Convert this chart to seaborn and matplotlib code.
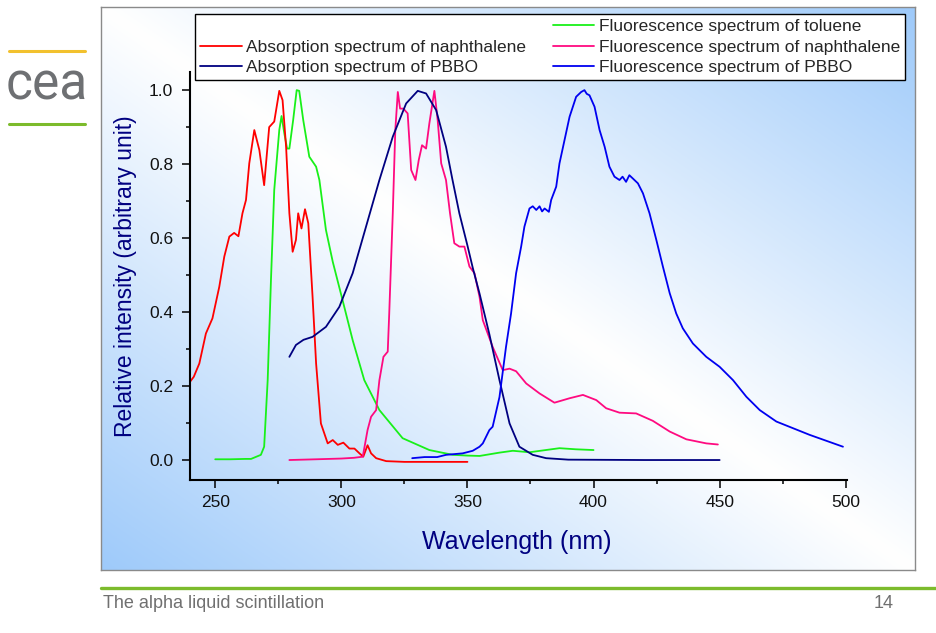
import numpy as np
import pandas as pd
import matplotlib
matplotlib.use("Agg")
import matplotlib.pyplot as plt
from matplotlib.lines import Line2D
from matplotlib.ticker import MultipleLocator
import seaborn as sns

# ---------------- data ----------------
abs_naph_x = [239.5, 241.5, 243.7, 246.3, 248.9, 251.6, 253.6, 255.6, 257.5, 259.2, 260.8,
              262.2, 263.5, 265.5, 267.5, 269.4, 271.4, 273.4, 275.4, 276.7, 278.1, 279.4,
              280.7, 282.0, 282.9, 284.2, 285.6, 286.9, 288.6, 290.0, 291.9, 294.6, 296.6,
              298.6, 300.8, 303.2, 305.2, 307.2, 308.7, 310.4, 311.8, 313.8, 317.8, 325.0,
              335.0, 350.0]
abs_naph_y = [0.207, 0.225, 0.261, 0.342, 0.383, 0.468, 0.550, 0.604, 0.614, 0.605, 0.667,
              0.703, 0.802, 0.892, 0.838, 0.743, 0.900, 0.915, 0.998, 0.973, 0.847, 0.667,
              0.563, 0.595, 0.667, 0.626, 0.678, 0.640, 0.441, 0.261, 0.099, 0.045, 0.054,
              0.041, 0.047, 0.031, 0.031, 0.018, 0.009, 0.040, 0.018, 0.005, -0.003, -0.005,
              -0.005, -0.005]

fl_tol_x = [250.0, 256.0, 262.0, 264.2, 268.1, 269.4, 270.8, 272.1, 273.4, 275.4, 276.3,
            277.4, 278.5, 279.4, 280.9, 282.3, 283.3, 284.9, 287.3, 290.0, 291.3, 293.9,
            296.6, 300.5, 304.5, 309.1, 315.1, 324.3, 334.9, 344.2, 350.0, 354.8, 362.7,
            368.0, 374.6, 380.0, 386.5, 393.0, 400.0]
fl_tol_y = [0.002, 0.002, 0.003, 0.003, 0.014, 0.036, 0.216, 0.486, 0.730, 0.892, 0.930,
            0.883, 0.842, 0.842, 0.919, 1.000, 0.998, 0.919, 0.820, 0.793, 0.757, 0.622,
            0.536, 0.432, 0.324, 0.216, 0.135, 0.059, 0.027, 0.014, 0.012, 0.011, 0.020,
            0.025, 0.021, 0.026, 0.032, 0.029, 0.027]

fl_naph_x = [279.4, 290.0, 300.0, 305.0, 308.5, 310.4, 311.8, 313.8, 315.1, 316.7, 318.4,
             319.0, 320.4, 321.4, 322.4, 323.3, 324.6, 326.3, 327.7, 329.4, 330.7, 332.0,
             333.6, 334.9, 336.9, 338.2, 339.6, 341.5, 343.1, 344.8, 346.8, 348.8, 350.8,
             352.8, 354.8, 356.1, 360.0, 364.0, 366.7, 369.3, 373.3, 378.6, 384.5, 390.5,
             395.8, 401.1, 405.0, 410.3, 416.9, 423.5, 430.2, 436.8, 444.7, 449.3]
fl_naph_y = [0.000, 0.002, 0.004, 0.006, 0.009, 0.081, 0.117, 0.135, 0.216, 0.279, 0.293,
             0.397, 0.667, 0.892, 0.995, 0.950, 0.950, 0.937, 0.784, 0.757, 0.811, 0.851,
             0.842, 0.910, 0.998, 0.919, 0.802, 0.757, 0.667, 0.586, 0.577, 0.577, 0.523,
             0.505, 0.441, 0.378, 0.306, 0.243, 0.247, 0.240, 0.207, 0.180, 0.155, 0.167,
             0.176, 0.162, 0.140, 0.128, 0.126, 0.106, 0.077, 0.056, 0.045, 0.042]

abs_pbbo_x = [279.4, 282.0, 285.0, 288.6, 293.9, 299.2, 304.5, 309.8, 315.1, 320.4, 325.7,
              330.3, 333.6, 337.6, 341.5, 344.0, 346.8, 350.0, 352.1, 354.8, 358.7, 362.7,
              366.7, 370.6, 375.9, 381.2, 390.0, 420.0, 450.0]
abs_pbbo_y = [0.279, 0.311, 0.325, 0.333, 0.360, 0.414, 0.505, 0.631, 0.757, 0.874, 0.964,
              0.998, 0.991, 0.946, 0.847, 0.760, 0.667, 0.580, 0.520, 0.450, 0.340, 0.216,
              0.099, 0.036, 0.014, 0.005, 0.001, 0.000, 0.000]

fl_pbbo_x = [328.1, 333.0, 338.0, 341.5, 348.1, 352.1, 354.8, 356.1, 358.7, 360.0, 362.7,
             365.3, 367.3, 369.3, 371.3, 372.6, 374.6, 375.9, 377.3, 378.6, 379.6, 380.6,
             382.3, 383.2, 385.2, 386.5, 388.5, 390.5, 393.1, 395.1, 396.4, 397.3, 398.4,
             400.4, 402.4, 404.4, 406.3, 408.3, 410.3, 411.5, 412.9, 414.2, 415.6, 417.6,
             419.6, 422.2, 424.9, 427.5, 430.2, 432.8, 435.4, 439.4, 444.7, 450.0, 455.3,
             460.6, 465.9, 472.5, 479.1, 485.7, 492.3, 498.9]
fl_pbbo_y = [0.005, 0.008, 0.008, 0.014, 0.018, 0.025, 0.036, 0.045, 0.081, 0.090, 0.170,
             0.306, 0.396, 0.505, 0.577, 0.631, 0.680, 0.686, 0.676, 0.686, 0.672, 0.680,
             0.671, 0.703, 0.739, 0.802, 0.865, 0.928, 0.982, 0.995, 1.000, 0.990, 0.986,
             0.955, 0.892, 0.847, 0.793, 0.766, 0.757, 0.766, 0.752, 0.770, 0.761, 0.748,
             0.721, 0.667, 0.595, 0.523, 0.451, 0.396, 0.356, 0.315, 0.279, 0.252, 0.216,
             0.171, 0.135, 0.104, 0.086, 0.068, 0.052, 0.036]

x_ticks = [250, 300, 350, 400, 450, 500]
y_ticks = [0.0, 0.2, 0.4, 0.6, 0.8, 1.0]

lbl_abs_naph = "Absorption spectrum of naphthalene"
lbl_abs_pbbo = "Absorption spectrum of PBBO"
lbl_fl_tol = "Fluorescence spectrum of toluene"
lbl_fl_naph = "Fluorescence spectrum of naphthalene"
lbl_fl_pbbo = "Fluorescence spectrum of PBBO"

C_TOL, C_ABSN, C_FLN, C_ABSP, C_FLP = "#19f019", "#ff0000", "#ff0a80", "#000080", "#0000f0"

series = [
    (fl_tol_x, fl_tol_y, C_TOL),
    (abs_naph_x, abs_naph_y, C_ABSN),
    (fl_naph_x, fl_naph_y, C_FLN),
    (abs_pbbo_x, abs_pbbo_y, C_ABSP),
    (fl_pbbo_x, fl_pbbo_y, C_FLP),
]

# ---------------- figure ----------------
sns.set_theme(style="ticks")
plt.rcParams["font.family"] = ["Liberation Sans", "DejaVu Sans"]

W, H = 937, 633
fig = plt.figure(figsize=(W / 100, H / 100), dpi=100)
fig.patch.set_facecolor("white")

def fx(px):
    return px / W

def fy(py):
    return 1 - py / H

# gradient panel: blue at bottom-left and top-right, white along the other diagonal
bg = fig.add_axes([fx(101), fy(570), fx(915) - fx(101), fy(7) - fy(570)], zorder=0)
u = np.linspace(0, 1, 400)
v = np.linspace(0, 1, 300)
U, V = np.meshgrid(u, v)          # row 0 = top
t = (U + (1 - V)) / 2.0
w = np.abs(2 * t - 1) ** 1.0
blue = np.array([158, 202, 250]) / 255.0
white = np.array([1.0, 1.0, 1.0])
img = white[None, None, :] * (1 - w[..., None]) + blue[None, None, :] * w[..., None]
bg.imshow(img, extent=[0, 1, 0, 1], aspect="auto", origin="upper")
bg.set_xticks([])
bg.set_yticks([])
for s in bg.spines.values():
    s.set_color("#8a8a8a")
    s.set_linewidth(1.0)

ax = fig.add_axes([fx(190), fy(480), fx(847) - fx(190), fy(72) - fy(480)], zorder=1)
ax.patch.set_alpha(0)

for xs, ys, col in series:
    df = pd.DataFrame({"x": xs, "y": ys})
    sns.lineplot(data=df, x="x", y="y", color=col, linewidth=1.3, ax=ax,
                 legend=False, sort=False, estimator=None)

ax.set_xlim(240, 500.5)
ax.set_ylim(-0.054, 1.049)
ax.set_xticks(x_ticks)
ax.set_yticks(y_ticks)
ax.set_xticklabels([str(v) for v in x_ticks])
ax.set_yticklabels([f"{v:.1f}" for v in y_ticks])
ax.xaxis.set_minor_locator(MultipleLocator(25))
ax.yaxis.set_minor_locator(MultipleLocator(0.1))
ax.tick_params(which="major", direction="out", length=6, width=1.1,
               labelsize=12.5, color="black", labelcolor="#111111")
ax.tick_params(which="minor", direction="out", length=3, width=1.1, color="black")
ax.tick_params(axis="x", which="major", pad=4.5)
ax.tick_params(axis="y", which="major", pad=6)
for side in ["top", "right"]:
    ax.spines[side].set_visible(False)
for side in ["left", "bottom"]:
    ax.spines[side].set_color("black")
    ax.spines[side].set_linewidth(1.5)

ax.set_xlabel("Wavelength (nm)", fontsize=18, color="#000080")
ax.set_ylabel("Relative intensity (arbitrary unit)", fontsize=16.5, color="#000080")
ax.xaxis.set_label_coords(0.498, -0.122)
ax.yaxis.set_label_coords(-0.081, 0.5)

# legend: left column starts with an empty slot
blank = Line2D([], [], color="none")
handles = [blank,
           Line2D([], [], color=C_ABSN, lw=1.3),
           Line2D([], [], color=C_ABSP, lw=1.3),
           Line2D([], [], color=C_TOL, lw=1.3),
           Line2D([], [], color=C_FLN, lw=1.3),
           Line2D([], [], color=C_FLP, lw=1.3)]
labels = [" ", lbl_abs_naph, lbl_abs_pbbo, lbl_fl_tol, lbl_fl_naph, lbl_fl_pbbo]
leg = fig.legend(handles, labels, ncol=2, loc="upper left",
                 bbox_to_anchor=(fx(195), fy(80), fx(905) - fx(195), fy(14) - fy(80)),
                 mode="expand", borderaxespad=0, fontsize=12.5, frameon=True,
                 fancybox=False, framealpha=1, facecolor="white", edgecolor="black",
                 handlelength=2.4, handletextpad=0.25, labelspacing=0.3, borderpad=0.3,
                 columnspacing=0.5)
leg.get_frame().set_linewidth(1.0)
leg.set_zorder(5)

# slide decorations
fig.add_artist(Line2D([fx(9), fx(85)], [fy(51), fy(51)], color="#f2c12e", lw=2.2))
fig.add_artist(Line2D([fx(9), fx(85)], [fy(124), fy(124)], color="#7cbb2c", lw=2.2))
fig.text(fx(47), fy(86), "cea", fontsize=37, color="#6e7073", ha="center", va="center",
         family=["Roboto", "Liberation Sans"])
fig.add_artist(Line2D([fx(101), fx(937)], [fy(587.5), fy(587.5)], color="#7cbb2c", lw=2.4))
fig.text(fx(103), fy(604), "The alpha liquid scintillation", fontsize=13, color="#707070",
         ha="left", va="center")
fig.text(fx(884), fy(604), "14", fontsize=13, color="#707070", ha="center", va="center")

fig.savefig("out.png", dpi=100)
